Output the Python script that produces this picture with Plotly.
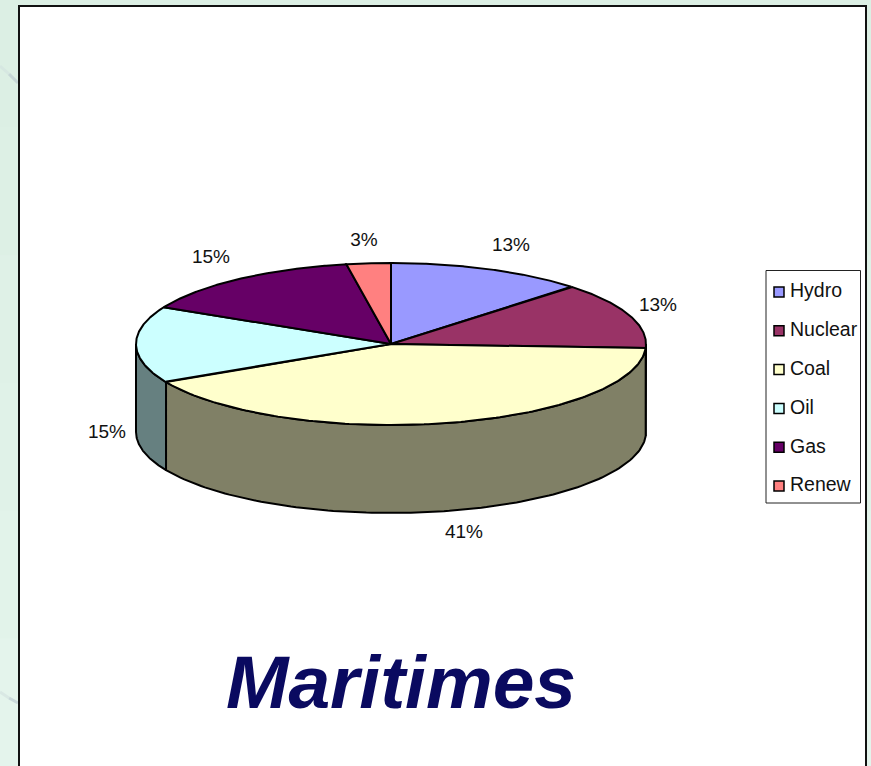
import numpy as np
import plotly.graph_objects as go

categories = ["Hydro", "Nuclear", "Coal", "Oil", "Gas", "Renew"]
shares = [12.5, 13.3, 41.4, 15.3, 14.7, 2.8]
share_labels = ["13%", "13%", "41%", "15%", "15%", "3%"]
chart_title = "Maritimes"

top_colors = ["#9999ff", "#993366", "#ffffcc", "#ccffff", "#660066", "#ff8080"]
side_colors = ["#666699", "#4d1a33", "#808066", "#668080", "#330033", "#804040"]
label_x = [511, 658, 464, 107, 211, 364]
label_y = [246, 306, 533, 433, 258, 241]

CX, CY, RX, RY, DEPTH = 391, 344, 255, 81, 88
FONT = "Liberation Sans"

fig = go.Figure()


def ellipse(theta_deg, dy=0):
    t = np.radians(theta_deg)
    return CX + RX * np.sin(t), CY - RY * np.cos(t) + dy


edges = np.concatenate([[0], np.cumsum(shares)]) / np.sum(shares) * 360

# Rim: the front half of the cylinder, slice by slice
for i in range(len(shares)):
    a, b = max(edges[i], 90), min(edges[i + 1], 270)
    if b <= a:
        continue
    th = np.linspace(a, b, 120)
    xt, yt = ellipse(th)
    xb, yb = ellipse(th[::-1], DEPTH)
    fig.add_trace(go.Scatter(
        x=np.r_[xt, xb, xt[0]], y=np.r_[yt, yb, yt[0]], mode="lines", fill="toself",
        fillcolor=side_colors[i], line=dict(color="black", width=2),
        hoverinfo="skip", showlegend=False))

# Top face
for i in range(len(shares)):
    th = np.linspace(edges[i], edges[i + 1], 160)
    xt, yt = ellipse(th)
    fig.add_trace(go.Scatter(
        x=np.r_[CX, xt, CX], y=np.r_[CY, yt, CY], mode="lines", fill="toself",
        fillcolor=top_colors[i], line=dict(color="black", width=2),
        hoverinfo="skip", showlegend=False))

# Percent labels
fig.add_trace(go.Scatter(
    x=label_x, y=label_y, mode="text", text=share_labels, textposition="middle center",
    textfont=dict(family=FONT, size=19, color="#111111"), hoverinfo="skip", showlegend=False))

# Legend
legend_y = [292 + 38.8 * i for i in range(len(categories))]
fig.add_trace(go.Scatter(
    x=[779] * len(categories), y=legend_y, mode="markers",
    marker=dict(symbol="square", size=10, color=top_colors, line=dict(color="black", width=1.5)),
    hoverinfo="skip", showlegend=False))
fig.add_trace(go.Scatter(
    x=[790] * len(categories), y=[v + 0.5 for v in legend_y], mode="text", text=categories,
    textposition="middle right", textfont=dict(family=FONT, size=19.5, color="#111111"),
    hoverinfo="skip", showlegend=False))

# Title
fig.add_trace(go.Scatter(
    x=[401], y=[689], mode="text", text=[f"<b><i>{chart_title}</i></b>"],
    textposition="middle center", textfont=dict(family=FONT, size=75, color="#0a0a60"),
    hoverinfo="skip", showlegend=False))

shapes = []
# Pale green page backdrop, slightly lighter toward the bottom
bands = ["#dcefe4", "#ddf0e5", "#dff1e7", "#e0f2e8", "#e2f3ea", "#e4f4ec"]
for i, c in enumerate(bands):
    shapes.append(dict(type="rect", xref="x", yref="y", x0=0, x1=871,
                       y0=i * 766 / 6, y1=(i + 1) * 766 / 6, fillcolor=c, line_width=0, layer="below"))
streaks = [(0, 66, 9, 74, "#d6e7e1"), (9, 74, 18, 83, "#c6d6d6"),
           (0, 692, 9, 698, "#d9e8e4"), (9, 698, 18, 703, "#c9d8da")]
for (x0, y0, x1, y1, c) in streaks:
    shapes.append(dict(type="line", xref="x", yref="y", x0=x0, y0=y0, x1=x1, y1=y1,
                       line=dict(color=c, width=3), layer="below"))
# Chart frame and legend box
shapes.append(dict(type="rect", xref="x", yref="y", x0=19, x1=866, y0=6, y1=790,
                   fillcolor="white", line=dict(color="#111111", width=2), layer="below"))
shapes.append(dict(type="rect", xref="x", yref="y", x0=766, x1=860.5, y0=270.5, y1=503,
                   fillcolor="white", line=dict(color="#222222", width=1), layer="below"))

fig.update_layout(
    width=871, height=766, margin=dict(l=0, r=0, t=0, b=0),
    paper_bgcolor="#dff1e7", plot_bgcolor="#dff1e7", shapes=shapes, showlegend=False,
    xaxis=dict(range=[0, 871], visible=False),
    yaxis=dict(range=[766, 0], visible=False),
)
fig.write_html("out.html", config={"displayModeBar": False},
               post_script="document.body.style.margin='0';document.body.style.overflow='hidden';")
